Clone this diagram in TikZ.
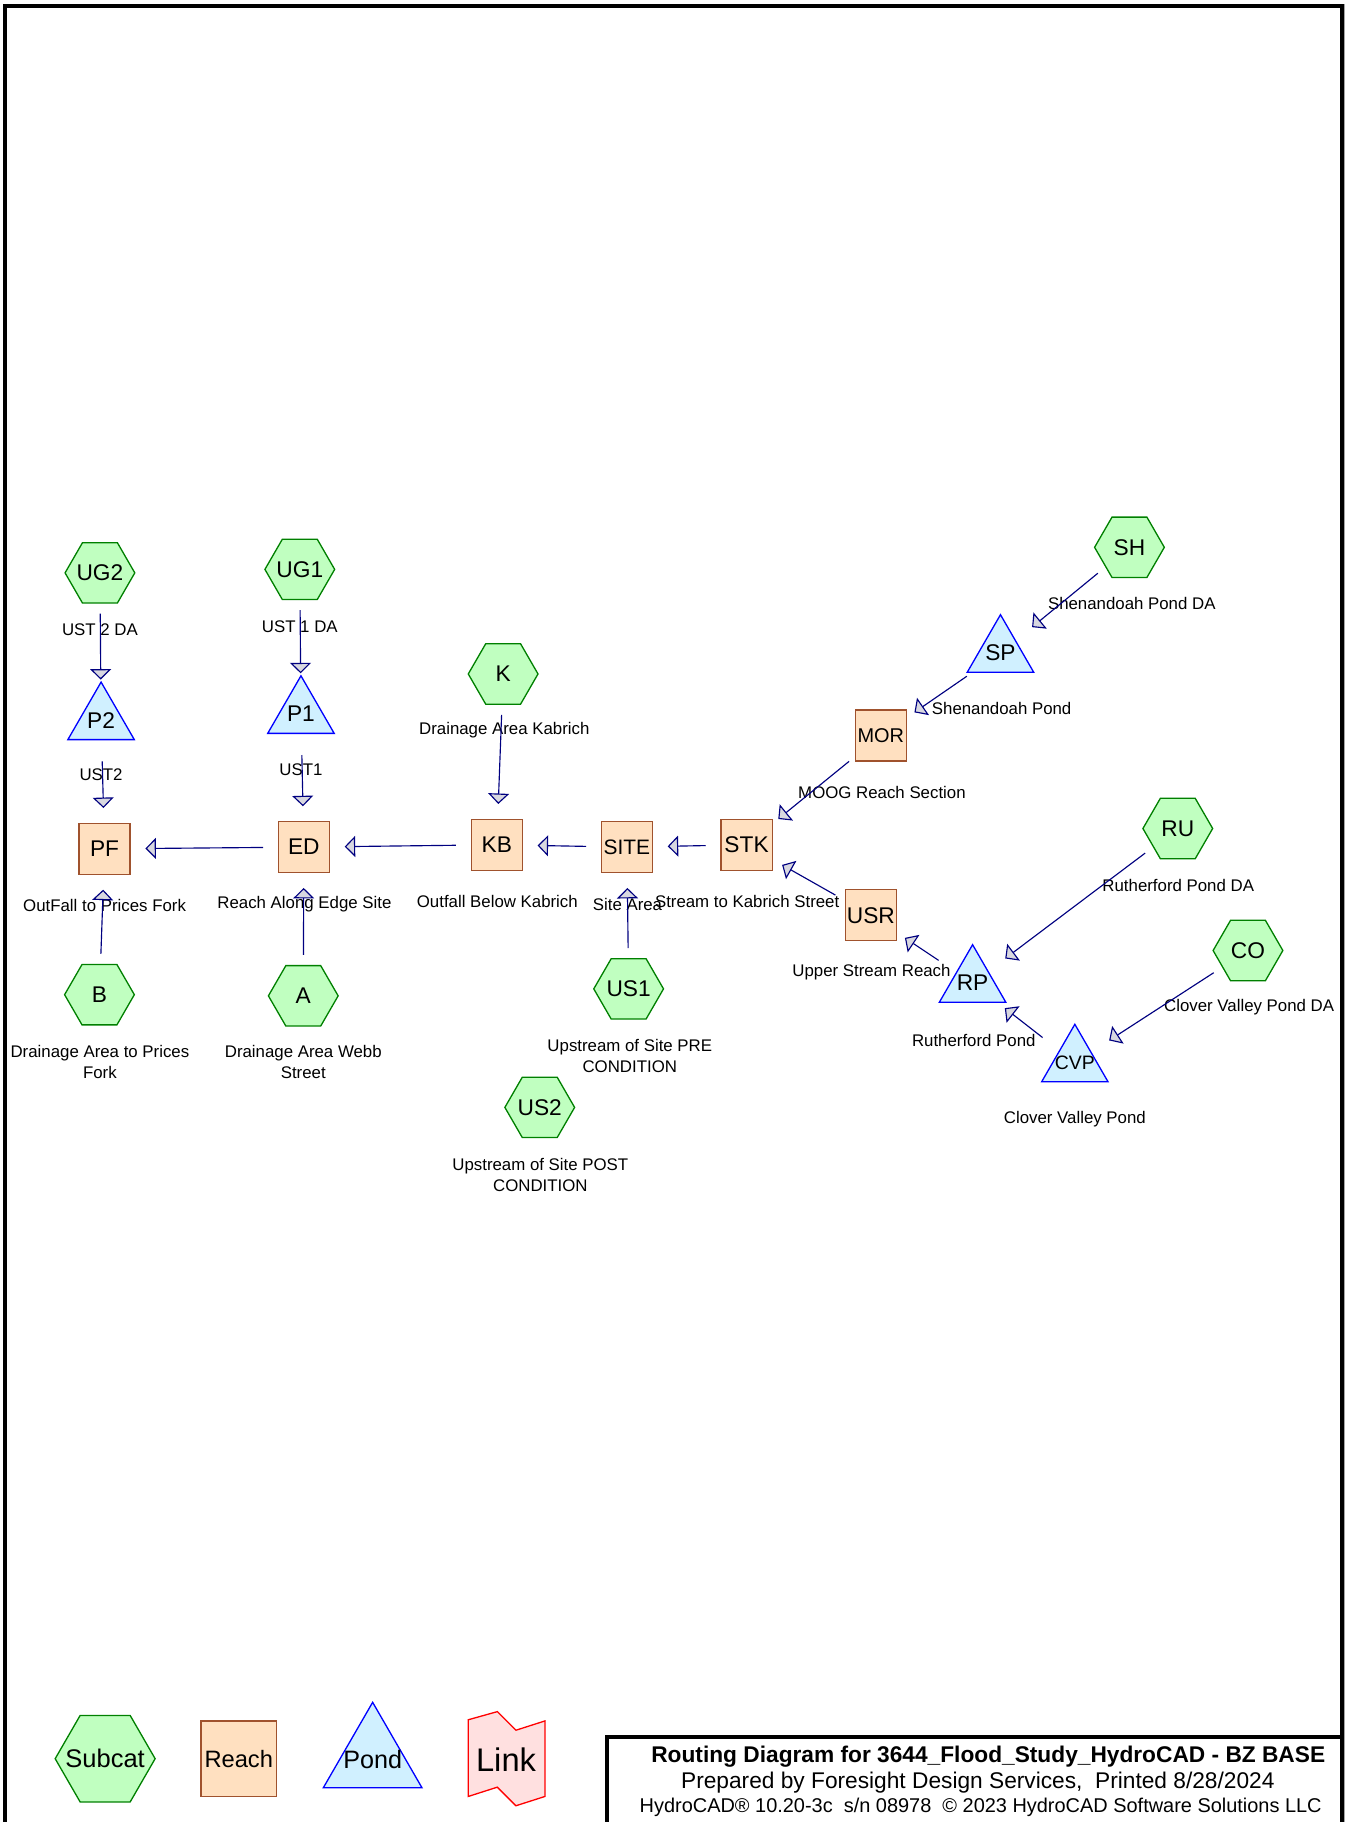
\documentclass[tikz,border=0pt]{standalone}
\usepackage{fontspec}
\setmainfont{Liberation Sans}
\usetikzlibrary{arrows.meta, shapes.geometric}

\definecolor{subfill}{HTML}{C0FFC0}
\definecolor{subline}{HTML}{008000}
\definecolor{reachfill}{HTML}{FFE0C0}
\definecolor{reachline}{HTML}{A0522D}
\definecolor{pondfill}{HTML}{D0F0FF}
\definecolor{pondline}{HTML}{0000FF}
\definecolor{linkfill}{HTML}{FFE0E0}
\definecolor{linkline}{HTML}{FF0000}
\definecolor{flowline}{HTML}{000080}
\definecolor{tipfill}{HTML}{D8D8E0}

% zero-width text, so the polygon keeps its size
\newcommand{\nowd}[1]{\makebox[0pt]{#1}}

\begin{document}
\begin{tikzpicture}[x=0.025cm, y=-0.025cm,
    subcat/.style ={regular polygon, regular polygon sides=6, draw=subline, fill=subfill,
                    line width=0.8pt, minimum size=1.5cm, inner sep=0pt,
                    font=\fontsize{13.9}{16}\selectfont},
    reach/.style  ={rectangle, draw=reachline, fill=reachfill,
                    line width=0.8pt, minimum size=1.1cm, inner sep=0pt,
                    font=\fontsize{13.9}{16}\selectfont},
    pond/.style   ={regular polygon, regular polygon sides=3, draw=pondline, fill=pondfill,
                    line width=0.8pt, minimum size=1.65cm, inner sep=0pt,
                    font=\fontsize{13.9}{16}\selectfont},
    caption/.style={align=center, inner sep=0pt, font=\fontsize{10.3}{12.8}\selectfont},
    flow/.style   ={draw=flowline, line width=0.7pt, shorten <=25pt, shorten >=25pt,
                    -{Triangle[length=6.4pt, width=12.8pt, fill=tipfill]}},
    frame/.style  ={line width=2.6pt},
    titletext/.style={inner sep=0pt, font=\fontsize{13.9}{16}\selectfont}
]
\useasboundingbox (0,0) rectangle (1157,1568);
\clip (0,0) rectangle (1157,1568);

% frame and title block
\draw[frame] (4,1600) -- (4,5.4) -- (1155.3,5.4) -- (1155.3,1600);
\draw[frame] (522.6,1600) -- (522.6,1494.6) -- (1155.3,1494.6);

% subcatchments
\node[subcat] (UG2) at (86,493)    {\nowd{UG2}};
\node[subcat] (UG1) at (258,490)   {\nowd{UG1}};
\node[subcat] (K)   at (433,580)   {\nowd{K}};
\node[subcat] (SH)  at (972,471)   {\nowd{SH}};
\node[subcat] (RU)  at (1013.6,713) {\nowd{RU}};
\node[subcat] (CO)  at (1074,818)  {\nowd{CO}};
\node[subcat] (B)   at (85.6,856)  {\nowd{B}};
\node[subcat] (A)   at (261,857)   {\nowd{A}};
\node[subcat] (US1) at (541,851)   {\nowd{US1}};
\node[subcat] (US2) at (464.5,953) {\nowd{US2}};

% reaches
\node[reach] (PF)   at (90,730.5)   {PF};
\node[reach] (ED)   at (261.5,729)  {ED};
\node[reach] (KB)   at (427.5,727)  {KB};
\node[reach, font=\fontsize{12.8}{15}\selectfont] (SITE) at (539.5,729) {SITE};
\node[reach] (STK)  at (642.5,727)  {STK};
\node[reach, font=\fontsize{12.2}{15}\selectfont] (MOR) at (758,633) {MOR};
\node[reach] (USR)  at (749.5,787.6) {USR};

% ponds
\node[pond] (P2)  at (87,620)    {\nowd{P2}};
\node[pond] (P1)  at (259,614.6) {\nowd{P1}};
\node[pond] (SP)  at (861,562)   {\nowd{SP}};
\node[pond] (RP)  at (837,846)   {\nowd{RP}};
\node[pond, font=\fontsize{11.9}{14}\selectfont] (CVP) at (925,914.5) {\nowd{CVP}};

% captions
\node[caption] (UG2c)  at (86,542)    {UST 2 DA};
\node[caption] (UG1c)  at (258,539)   {UST 1 DA};
\node[caption] (P2c)   at (87,667)    {UST2};
\node[caption] (P1c)   at (259,662)   {UST1};
\node[caption] (PFc)   at (90,779)    {OutFall to Prices Fork};
\node[caption] (EDc)   at (262,778)   {Reach Along Edge Site};
\node[caption] (KBc)   at (428,776)   {Outfall Below Kabrich};
\node[caption] (SITEc) at (540,778)   {Site Area};
\node[caption] (STKc)  at (643,776)   {Stream to Kabrich Street};
\node[caption] (Kc)    at (434,628)   {Drainage Area Kabrich};
\node[caption] (MORc)  at (759,682)   {MOOG Reach Section};
\node[caption] (USRc)  at (750,837)   {Upper Stream Reach};
\node[caption] (SHc)   at (974,519)   {Shenandoah Pond DA};
\node[caption] (SPc)   at (862,610)   {Shenandoah Pond};
\node[caption] (RUc)   at (1014,762)  {Rutherford Pond DA};
\node[caption] (RPc)   at (838,895)   {Rutherford Pond};
\node[caption] (COc)   at (1075,867)  {Clover Valley Pond DA};
\node[caption] (CVPc)  at (925,963)   {Clover Valley Pond};
\node[caption] (Bc)    at (86,914)    {Drainage Area to Prices\\Fork};
\node[caption] (Ac)    at (261,914)   {Drainage Area Webb\\Street};
\node[caption] (US1c)  at (542,909)   {Upstream of Site PRE\\CONDITION};
\node[caption] (US2c)  at (465,1011)  {Upstream of Site POST\\CONDITION};

% routing
\draw[flow] (UG2.center) -- (P2.center);
\draw[flow] (UG1.center) -- (P1.center);
\draw[flow] (P2.center) -- (PF.center);
\draw[flow] (P1.center) -- (ED.center);
\draw[flow] (B.center) -- (PF.center);
\draw[flow] (A.center) -- (ED.center);
\draw[flow] (ED.center) -- (PF.center);
\draw[flow] (KB.center) -- (ED.center);
\draw[flow] (SITE.center) -- (KB.center);
\draw[flow] (STK.center) -- (SITE.center);
\draw[flow] (K.center) -- (KB.center);
\draw[flow] (US1.center) -- (SITE.center);
\draw[flow] (MOR.center) -- (STK.center);
\draw[flow] (USR.center) -- (STK.center);
\draw[flow] (SH.center) -- (SP.center);
\draw[flow] (SP.center) -- (MOR.center);
\draw[flow] (RU.center) -- (RP.center);
\draw[flow] (RP.center) -- (USR.center);
\draw[flow] (CO.center) -- (CVP.center);
\draw[flow] (CVP.center) -- (RP.center);

% legend
\node[subcat, minimum size=2.15cm, font=\fontsize{15.6}{18}\selectfont] (lgSub) at (90.5,1513.5) {\nowd{Subcat}};
\node[reach, minimum size=1.625cm, font=\fontsize{14.5}{17}\selectfont] (lgReach) at (205.5,1513.5) {Reach};
\node[pond, minimum size=2.45cm, font=\fontsize{15.4}{18}\selectfont] (lgPond) at (320.7,1514) {\nowd{Pond}};
\draw[draw=linkline, fill=linkfill, line width=0.8pt]
    (403,1480) -- (428,1473) -- (444,1489) -- (469,1481) -- (469,1546)
    -- (444,1554) -- (428,1538) -- (403,1546) -- cycle;
\node[inner sep=0pt, font=\fontsize{20}{24}\selectfont] (lgLink) at (435.5,1514) {Link};

% title block text
\node[titletext, font=\bfseries\fontsize{13.9}{16}\selectfont] (ttl1) at (850.5,1512) {Routing Diagram for 3644\_Flood\_Study\_HydroCAD - BZ BASE};
\node[titletext] (ttl2) at (841.5,1534) {Prepared by Foresight Design Services,\ \ Printed 8/28/2024};
\node[titletext, font=\fontsize{12.2}{14}\selectfont] (ttl3) at (844,1555) {HydroCAD® 10.20-3c\ \ s/n 08978\ \ © 2023 HydroCAD Software Solutions LLC};
\end{tikzpicture}
\end{document}
